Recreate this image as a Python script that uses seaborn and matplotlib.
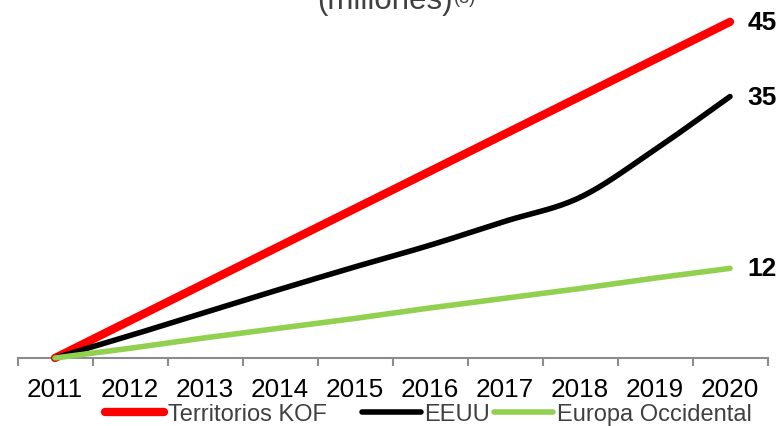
import matplotlib
matplotlib.use("Agg")
import matplotlib.pyplot as plt
import seaborn as sns
import pandas as pd
import numpy as np

years = ["2011", "2012", "2013", "2014", "2015", "2016", "2017", "2018", "2019", "2020"]
kof = [0, 5, 10, 15, 20, 25, 30, 35, 40, 45]
eeuu = [0, 3.0, 6.1, 9.2, 12.2, 15.1, 18.3, 21.5, 27.9, 35]
europa = [0, 1.3, 2.7, 4.0, 5.3, 6.7, 8.0, 9.3, 10.7, 12]
series_names = ["Territorios KOF", "EEUU", "Europa Occidental"]
end_labels = ["45", "35", "12"]


def smooth(xs, ys, n=20):
    """Catmull-Rom smoothing through the data points (like Excel smoothed lines)."""
    xs = np.asarray(xs, float)
    ys = np.asarray(ys, float)
    px = np.concatenate([[2 * xs[0] - xs[1]], xs, [2 * xs[-1] - xs[-2]]])
    py = np.concatenate([[2 * ys[0] - ys[1]], ys, [2 * ys[-1] - ys[-2]]])
    outx, outy = [], []
    for i in range(1, len(px) - 2):
        t = np.linspace(0, 1, n, endpoint=False)
        for arr, out in ((px, outx), (py, outy)):
            p0, p1, p2, p3 = arr[i - 1], arr[i], arr[i + 1], arr[i + 2]
            out.extend(0.5 * ((2 * p1) + (-p0 + p2) * t + (2 * p0 - 5 * p1 + 4 * p2 - p3) * t ** 2
                              + (-p0 + 3 * p1 - 3 * p2 + p3) * t ** 3))
    outx.append(xs[-1])
    outy.append(ys[-1])
    return np.array(outx), np.array(outy)


sns.set_theme(style="white")
plt.rcParams["font.family"] = ["Liberation Sans", "DejaVu Sans"]

fig = plt.figure(figsize=(7.79, 4.27), dpi=100)
ax = fig.add_axes([17.5 / 779, (427 - 359) / 427, 750 / 779, 359 / 427])

colors = ["#FF0000", "#000000", "#92D050"]
widths = [6.0, 4.0, 4.0]
x = np.arange(len(years))
for vals, name, c, lw, sm in zip([kof, eeuu, europa], series_names, colors, widths,
                                  [False, True, False]):
    if sm:
        sx, sy = smooth(x, vals)
    else:
        sx, sy = x, np.asarray(vals, float)
    df = pd.DataFrame({"x": sx, "y": sy})
    sns.lineplot(data=df, x="x", y="y", ax=ax, color=c, linewidth=lw, label=name,
                 legend=False, solid_capstyle="round", clip_on=False, sort=False)

ax.set_xlim(-0.5, 9.5)
ax.set_ylim(0, 359 / 7.47)
ax.set_xlabel("")
ax.set_ylabel("")
ax.set_yticks([])
ax.set_xticks(x)
ax.set_xticklabels(years, fontsize=18.8, color="black")
ax.set_xticks(np.arange(-0.5, 10, 1), minor=True)
ax.tick_params(axis="x", which="major", length=0, pad=14)
ax.tick_params(axis="x", which="minor", length=6, width=1.5, color="#8c8c8c", direction="out", bottom=True)
for s in ["left", "top", "right"]:
    ax.spines[s].set_visible(False)
ax.spines["bottom"].set_color("#8c8c8c")
ax.spines["bottom"].set_linewidth(1.5)
ax.spines["bottom"].set_zorder(0)

for vals, lab in zip([kof, eeuu, europa], end_labels):
    ax.annotate(lab, xy=(x[-1], vals[-1]), xytext=(12.5, 0), textcoords="offset points",
                ha="left", va="center", fontsize=19, fontweight="bold", color="black",
                annotation_clip=False)

# Title (cut at top, as in the reference)
fig.text(453 / 779, 1 - 9 / 427, "(millones)", ha="right", va="baseline",
         fontsize=22.5, color="#404040")
fig.text(454 / 779, 1 - 3 / 427, "(3)", ha="left", va="baseline",
         fontsize=13, color="#404040")

# Legends (three separate entries positioned like the reference)
lines = ax.get_lines()[:3]
legend_pos = [105, 362, 494]
for ln, name, xp in zip(lines, series_names, legend_pos):
    leg = fig.legend([ln], [name], loc="center left", bbox_to_anchor=(xp / 779, 1 - 415 / 427),
                     frameon=False, fontsize=17, handlelength=2.5, handletextpad=0.15,
                     borderpad=0, borderaxespad=0)
    for t in leg.get_texts():
        t.set_color("#404040")
    for h in leg.legend_handles:
        h.set_solid_capstyle("round")

fig.savefig("out.png", dpi=100)
